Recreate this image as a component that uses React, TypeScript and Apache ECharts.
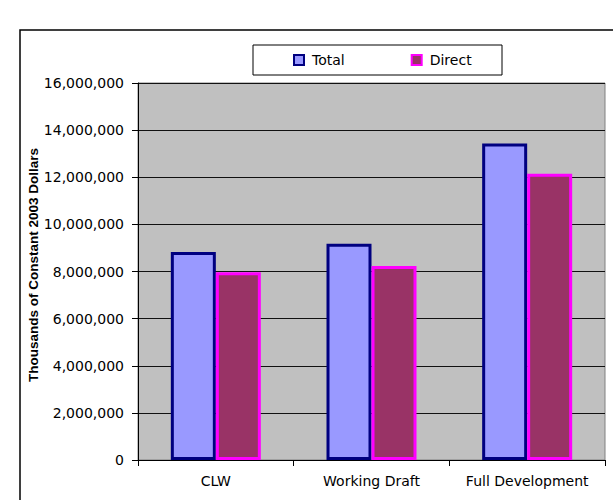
import React, { useEffect, useRef } from "react";
import * as echarts from "echarts";

const categories = ["CLW", "Working Draft", "Full Development"];
const totalValues = [8830000, 9180000, 13430000];
const directValues = [7970000, 8230000, 12150000];
const seriesNames = ["Total", "Direct"];
const yAxisTitle = "Thousands of Constant 2003 Dollars";

const FONT = "'DejaVu Sans', sans-serif";
const TITLE_FONT = "Arial, 'Liberation Sans', sans-serif";

export default function App() {
  const ref = useRef<HTMLDivElement>(null);
  useEffect(() => {
    if (!ref.current) return;
    const chart = echarts.init(ref.current, null, { renderer: "svg" });
    chart.setOption({
      animation: false,
      backgroundColor: "#ffffff",
      textStyle: { fontFamily: FONT },
      graphic: [
        {
          type: "rect",
          z: 0,
          shape: { x: 20, y: 30, width: 620, height: 500 },
          style: { fill: "none", stroke: "#000", lineWidth: 1.5 },
        },
        {
          type: "rect",
          z: 1,
          shape: { x: 253, y: 45, width: 249, height: 30 },
          style: { fill: "#fff", stroke: "#000", lineWidth: 1 },
        },
        {
          type: "text",
          z: 5,
          x: 33,
          y: 265,
          rotation: Math.PI / 2,
          style: {
            text: yAxisTitle,
            fontFamily: TITLE_FONT,
            fontSize: 13.5,
            fontWeight: "bold",
            fill: "#000",
            align: "center",
            verticalAlign: "middle",
          },
        },
      ],
      legend: {
        z: 10,
        left: 293,
        top: 52,
        itemWidth: 10,
        itemHeight: 10,
        itemGap: 66,
        icon: "rect",
        padding: 0,
        itemStyle: { borderWidth: 2 },
        textStyle: { fontFamily: FONT, fontSize: 14, lineHeight: 16, color: "#000", padding: [0, 0, 0, 3] },
        data: seriesNames,
      },
      grid: {
        left: 138,
        top: 83,
        right: 8,
        bottom: 40,
        show: true,
        backgroundColor: "#C0C0C0",
        borderColor: "#808080",
        borderWidth: 1,
      },
      xAxis: {
        type: "category",
        data: categories,
        axisLine: { lineStyle: { color: "#000", width: 1 } },
        axisTick: { show: true, length: 6, lineStyle: { color: "#000" } },
        axisLabel: { interval: 0, fontFamily: FONT, fontSize: 14, color: "#000", margin: 14 },
      },
      yAxis: {
        type: "value",
        min: 0,
        max: 16000000,
        interval: 2000000,
        axisLine: { show: true, lineStyle: { color: "#000", width: 1 } },
        axisTick: { show: true, length: 6, lineStyle: { color: "#000" } },
        splitLine: { lineStyle: { color: "#111", width: 1 } },
        axisLabel: {
          fontFamily: FONT,
          fontSize: 14,
          color: "#000",
          margin: 14,
          formatter: (v: number) => v.toLocaleString("en-US"),
        },
      },
      series: [
        {
          name: seriesNames[0],
          type: "bar",
          data: totalValues,
          barWidth: 45,
          barGap: "0%",
          itemStyle: { color: "#9999FF", borderColor: "#000080", borderWidth: 3 },
        },
        {
          name: seriesNames[1],
          type: "bar",
          data: directValues,
          barWidth: 45,
          itemStyle: { color: "#993366", borderColor: "#FF00FF", borderWidth: 3 },
        },
      ],
    });
    return () => chart.dispose();
  }, []);
  return <div ref={ref} style={{ width: 613, height: 500, position: "absolute", left: 0, top: 0 }} />;
}
